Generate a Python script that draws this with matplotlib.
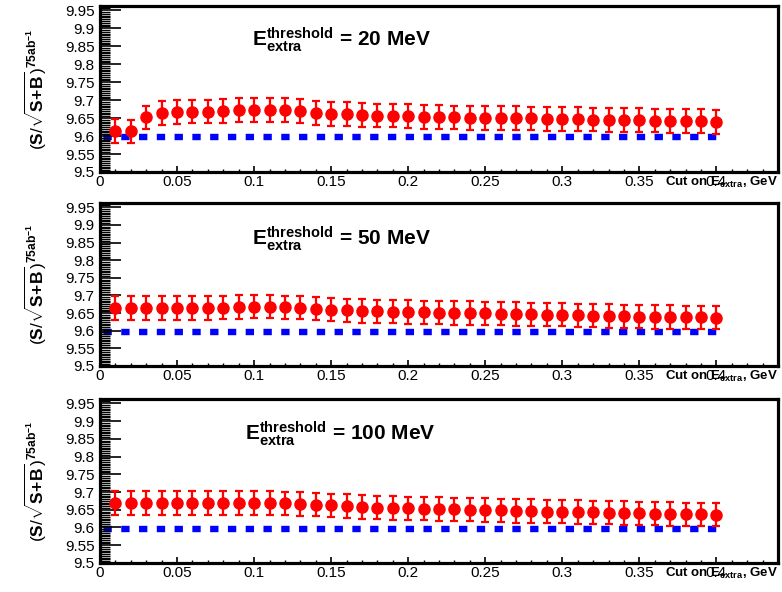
import numpy as np
import matplotlib
matplotlib.use("Agg")
import matplotlib.pyplot as plt
from matplotlib.ticker import MultipleLocator

plt.rcParams['font.family'] = ['Liberation Sans', 'DejaVu Sans']
plt.rcParams['mathtext.fontset'] = 'custom'
plt.rcParams['mathtext.rm'] = 'Liberation Sans'
plt.rcParams['mathtext.bf'] = 'Liberation Sans:bold'
plt.rcParams['mathtext.it'] = 'Liberation Sans:italic'
plt.rcParams['lines.scale_dashes'] = False

# cut values on E_extra (GeV)
cuts = [0.01, 0.02, 0.03, 0.04, 0.05, 0.06, 0.07, 0.08, 0.09, 0.10,
        0.11, 0.12, 0.13, 0.14, 0.15, 0.16, 0.17, 0.18, 0.19, 0.20,
        0.21, 0.22, 0.23, 0.24, 0.25, 0.26, 0.27, 0.28, 0.29, 0.30,
        0.31, 0.32, 0.33, 0.34, 0.35, 0.36, 0.37, 0.38, 0.39, 0.40]

signif_20 = [9.614, 9.613, 9.652, 9.664, 9.666, 9.668, 9.668, 9.670, 9.672, 9.673,
             9.673, 9.672, 9.669, 9.665, 9.662, 9.661, 9.659, 9.657, 9.657, 9.655,
             9.654, 9.653, 9.652, 9.651, 9.651, 9.650, 9.650, 9.649, 9.648, 9.647,
             9.647, 9.646, 9.645, 9.644, 9.644, 9.643, 9.642, 9.642, 9.641, 9.640]

signif_50 = [9.664, 9.664, 9.664, 9.664, 9.664, 9.664, 9.664, 9.665, 9.667, 9.668,
             9.668, 9.666, 9.665, 9.662, 9.660, 9.658, 9.656, 9.655, 9.654, 9.653,
             9.652, 9.651, 9.650, 9.650, 9.649, 9.648, 9.647, 9.646, 9.645, 9.645,
             9.644, 9.643, 9.642, 9.641, 9.640, 9.639, 9.639, 9.638, 9.638, 9.637]

signif_100 = [9.669, 9.669, 9.669, 9.669, 9.669, 9.669, 9.669, 9.669, 9.669, 9.669,
              9.669, 9.668, 9.666, 9.664, 9.662, 9.660, 9.658, 9.656, 9.655, 9.654,
              9.653, 9.652, 9.651, 9.650, 9.649, 9.648, 9.647, 9.646, 9.645, 9.645,
              9.644, 9.643, 9.642, 9.641, 9.640, 9.639, 9.638, 9.637, 9.637, 9.636]

signif_err = 0.033
baseline = 9.597
thresholds = ['20', '50', '100']

# axes boxes [left, bottom, width, height] in figure fraction
boxes = [[0.1279, 0.7095, 0.867, 0.2804],
         [0.1279, 0.3818, 0.867, 0.2753],
         [0.1279, 0.0490, 0.867, 0.2770]]
label_pos = [(0.224, 0.76), (0.224, 0.74), (0.214, 0.75)]

fig = plt.figure(figsize=(7.82, 5.92), dpi=100)

for box, vals, thr, lpos in zip(boxes, [signif_20, signif_50, signif_100], thresholds, label_pos):
    ax = fig.add_axes(box)
    ax.plot([0, cuts[-1] + 0.002], [baseline, baseline], color='blue', lw=4.6,
            linestyle=(-2.5, (6, 6.8)), solid_capstyle='butt', dash_capstyle='butt',
            zorder=1)
    ax.errorbar(cuts, vals, yerr=signif_err, fmt='o', color='red', ms=8,
                elinewidth=1.6, capsize=2.8, capthick=1.6, zorder=2)

    ax.set_xlim(0, 0.44)
    ax.set_ylim(9.5, 9.962)
    ax.xaxis.set_major_locator(MultipleLocator(0.05))
    ax.xaxis.set_minor_locator(MultipleLocator(0.01))
    ax.yaxis.set_major_locator(MultipleLocator(0.05))
    ax.yaxis.set_minor_locator(MultipleLocator(0.005))
    ax.xaxis.set_major_formatter(plt.FuncFormatter(lambda v, p: ('%g' % round(v, 3))))
    ax.yaxis.set_major_formatter(plt.FuncFormatter(lambda v, p: ('%g' % round(v, 3))))

    ax.tick_params(axis='y', which='major', direction='in', length=15, width=1.2,
                   labelsize=11, pad=4, right=False)
    ax.tick_params(axis='y', which='minor', direction='in', length=7.5, width=1.0, right=False)
    ax.tick_params(axis='x', which='major', direction='in', length=4.5, width=1.2,
                   labelsize=11, pad=2, top=False)
    ax.tick_params(axis='x', which='minor', direction='in', length=2.5, width=1.0, top=False)
    for s in ax.spines.values():
        s.set_linewidth(2.3)
    ax.spines['left'].set_zorder(3)

    ax.text(lpos[0], lpos[1],
            r'$\mathbf{E}^{\mathbf{threshold}}_{\mathbf{extra}}$' + ' = ' + thr + ' MeV',
            transform=ax.transAxes, fontsize=15, fontweight='bold', ha='left', va='baseline')

    ax.text(-0.095, 0.5, r'$(\mathbf{S}/\sqrt{\mathbf{S\!+\!B}})^{\mathbf{75ab^{-1}}}$',
            transform=ax.transAxes, rotation=90, fontsize=12.5, fontweight='bold',
            ha='center', va='center')

    ax.text(1.0, -0.02, r'Cut on E$_{\mathbf{extra}}$, GeV', transform=ax.transAxes,
            fontsize=9.5, fontweight='bold', ha='right', va='top')

fig.savefig('out.png', dpi=100)
